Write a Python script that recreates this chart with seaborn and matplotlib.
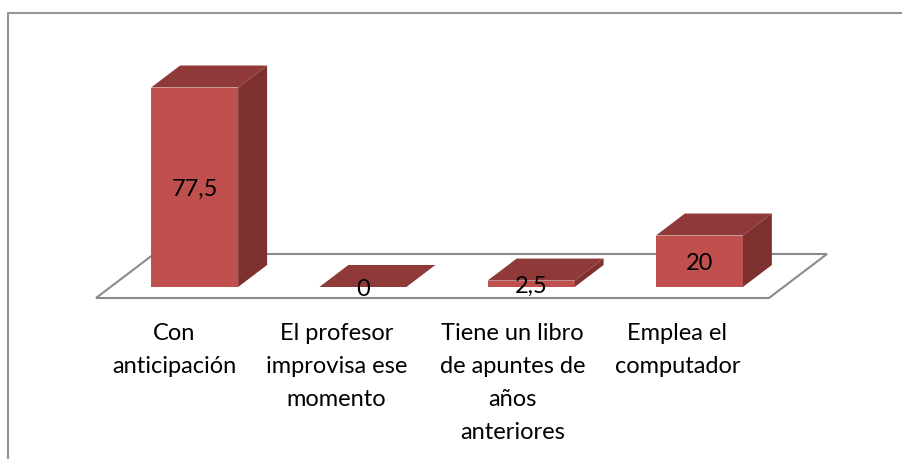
import matplotlib
matplotlib.use("Agg")
import matplotlib.pyplot as plt
import matplotlib.transforms as mtrans
from matplotlib.lines import Line2D
from matplotlib.patches import Polygon
import seaborn as sns
import pandas as pd

categories = ["Con\nanticipación", "El profesor\nimprovisa ese\nmomento",
              "Tiene un libro\nde apuntes de\naños\nanteriores", "Emplea el\ncomputador"]
values = [77.5, 0, 2.5, 20]
value_labels = ["77,5", "0", "2,5", "20"]

W, H = 903, 459
FRONT, TOP, SIDE = "#C0504D", "#8F3A38", "#7D302E"
GRAY = "#8A8A8A"
FS = 17

sns.set_theme(style="white")
plt.rcParams["font.family"] = ["Lato", "DejaVu Sans"]
fig = plt.figure(figsize=(W / 100, H / 100), dpi=100)
fig.patch.set_facecolor("white")

# chart border: left and top edges only inside the crop
fig.add_artist(Line2D([8 / W, 8 / W, 1.0], [0.0, 1 - 12.5 / H, 1 - 12.5 / H],
                      transform=fig.transFigure, color="#969696", linewidth=1.5))

px_per_unit = 199.5 / 77.5
left, right, base, top = 110.5, 783.5, 287, 20
ax = fig.add_axes([left / W, 1 - base / H, (right - left) / W, (base - top) / H])
ax.patch.set_alpha(0)
df = pd.DataFrame({"cat": categories, "val": values})
sns.barplot(data=df, x="cat", y="val", ax=ax, color=FRONT, saturation=1, width=0.517,
            zorder=5, linewidth=0, edgecolor="none")
ax.set_xlim(-0.5, 3.5)
ax.set_ylim(0, (base - top) / px_per_unit)
sns.despine(ax=ax, left=True, bottom=True)
ax.set_xlabel("")
ax.set_ylabel("")
ax.set_yticks([])
ax.tick_params(axis="x", length=0, pad=0)
ax.grid(False)

dx = 29 / ((right - left) / 4)
dy = 22 / px_per_unit

# floor parallelogram: twice the bar depth, bars standing at mid depth
fx0, fx1 = -0.5 - dx / 2, 3.5 - dx / 2
fy0, fy1 = -dy / 2, 1.5 * dy
ax.add_patch(Polygon([(fx0, fy0), (fx1, fy0), (fx1 + 2 * dx, fy1), (fx0 + 2 * dx, fy1)],
                     closed=True, fill=False, edgecolor=GRAY, linewidth=1.5,
                     clip_on=False, zorder=1))

# depth faces and value labels from each bar
for bar, lab in zip(ax.patches[:4], value_labels):
    x0, x1 = bar.get_x(), bar.get_x() + bar.get_width()
    h = bar.get_height()
    ax.add_patch(Polygon([(x0, h), (x1, h), (x1 + dx, h + dy), (x0 + dx, h + dy)],
                         closed=True, facecolor=TOP, edgecolor="none", zorder=4, clip_on=False))
    ax.add_patch(Polygon([(x1, 0), (x1 + dx, dy), (x1 + dx, h + dy), (x1, h)],
                         closed=True, facecolor=SIDE, edgecolor="none", zorder=4, clip_on=False))
    ax.annotate(lab, ((x0 + x1) / 2, h / 2), xytext=(0, -1.5), textcoords="offset points",
                ha="center", va="center", fontsize=FS, color="black", zorder=6,
                annotation_clip=False)

# category labels sit left of the bar centres
label_shift_px = [-20.5, -26.5, -18.5, -22]
for t, s in zip(ax.get_xticklabels(), label_shift_px):
    offset = mtrans.ScaledTranslation(s / 100, 0, fig.dpi_scale_trans)
    t.set_transform(t.get_transform() + offset)
    t.set_fontsize(FS)
    t.set_color("black")
    t.set_linespacing(1.7)
    t.set_y(-0.135)
    t.set_va("top")

fig.savefig("out.png", dpi=100, facecolor="white")
